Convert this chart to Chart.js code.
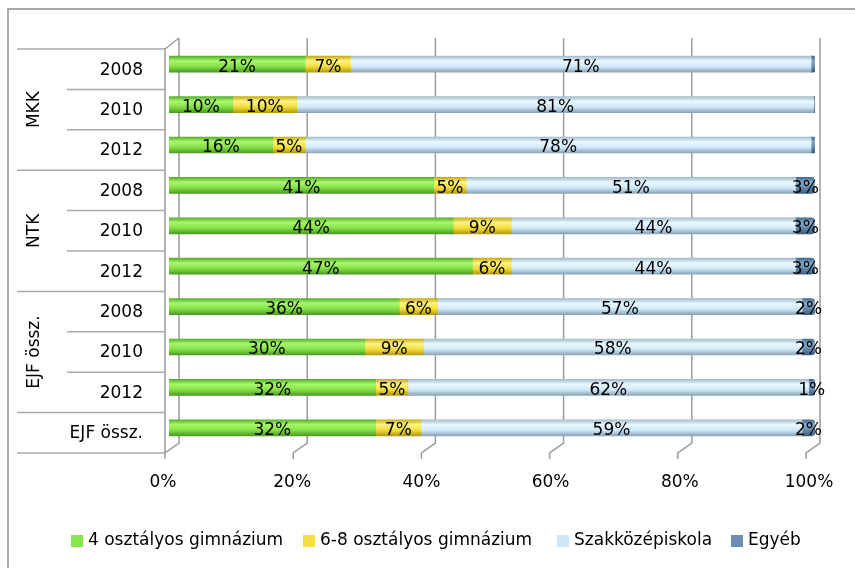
<!DOCTYPE html>
<html>
<head>
<meta charset="utf-8">
<script src="https://cdn.jsdelivr.net/npm/chart.js@4/dist/chart.umd.min.js"></script>
<style>
  html, body { margin: 0; padding: 0; background: #fff; }
  canvas { display: block; }
</style>
</head>
<body>
<canvas id="chart" width="855" height="568"></canvas>
<script>
// ---- data ----
const categories = ['2008', '2010', '2012', '2008', '2010', '2012', '2008', '2010', '2012', 'EJF össz.'];
const groupLabels = ['MKK', 'NTK', 'EJF össz.'];
const groupSizes = [3, 3, 3];
const seriesNames = ['4 osztályos gimnázium', '6-8 osztályos gimnázium', 'Szakközépiskola', 'Egyéb'];
const gimn4 = [21, 10, 16, 41, 44, 47, 36, 30, 32, 32];
const gimn68 = [7, 10, 5, 5, 9, 6, 6, 9, 5, 7];
const szakkozep = [71, 81, 78, 51, 44, 44, 57, 58, 62, 59];
const egyeb = [0.6, 0.2, 0.6, 3, 3, 3, 2, 2, 1, 2];
const xTicks = [0, 20, 40, 60, 80, 100];

const rawSeries = [gimn4, gimn68, szakkozep, egyeb];

// 100% stacked: normalise each row
const rowSums = categories.map((c, i) => rawSeries.reduce((s, arr) => s + arr[i], 0));
const normalised = rawSeries.map(arr => arr.map((v, i) => v / rowSums[i] * 100));

// ---- colours / layout ----
const FONT = '"DejaVu Sans", sans-serif';
const legendColors = ['#88e64a', '#f2e03e', '#cfe6f8', '#6a8fb1'];
const legendX = [71, 303, 557, 731];
const cylStops = [
  ['#5aae2c', '#a8f86c', '#84e046', '#4d9a25'],
  ['#c4ad16', '#fff385', '#f3dc3a', '#b39a0e'],
  ['#a4bccd', '#eaf8ff', '#cfe9f9', '#8aa3b6'],
  ['#456a8b', '#86a9ca', '#6489ab', '#3b5c7c']
];

function cylinder(stops) {
  return function(ctx) {
    const chart = ctx.chart;
    const ys = chart.scales && chart.scales.y;
    if (!ys || ctx.dataIndex === undefined) return stops[2];
    const yc = ys.getPixelForValue(ctx.dataIndex);
    if (!isFinite(yc)) return stops[2];
    const g = chart.ctx.createLinearGradient(0, yc - 8, 0, yc + 8);
    g.addColorStop(0, stops[0]);
    g.addColorStop(0.3, stops[1]);
    g.addColorStop(0.65, stops[2]);
    g.addColorStop(1, stops[3]);
    return g;
  };
}

// 3D walls, floor, left label grid, group labels
const frame3d = {
  id: 'frame3d',
  beforeDatasetsDraw(chart) {
    const ctx = chart.ctx;
    const xs = chart.scales.x;
    const ys = chart.scales.y;
    const step = ys.getPixelForValue(1) - ys.getPixelForValue(0);
    const rowTop = i => ys.getPixelForValue(i) - step / 2 + 5;
    const floorFront = rowTop(categories.length);
    const floorBack = floorFront - 10;
    const wallTop = rowTop(0) - 11;
    const front = v => xs.getPixelForValue(v) - 4 - 0.05 * v;
    const back = v => xs.getPixelForValue(v) + 10 - 0.05 * v;

    ctx.save();
    ctx.strokeStyle = '#9b9b9b';
    ctx.lineWidth = 1.5;
    // back wall gridlines + floor diagonals + ticks
    xTicks.forEach(v => {
      ctx.beginPath();
      ctx.moveTo(back(v), wallTop);
      ctx.lineTo(back(v), floorBack);
      ctx.lineTo(front(v), floorFront);
      ctx.lineTo(front(v), floorFront + 6);
      ctx.stroke();
    });
    // left side wall
    const lx = front(0);
    ctx.beginPath();
    ctx.moveTo(lx, floorFront);
    ctx.lineTo(lx, rowTop(0));
    ctx.lineTo(back(0), wallTop);
    ctx.stroke();

    // label separators
    ctx.strokeStyle = '#a8a8a8';
    const fullStops = [0];
    groupSizes.reduce((acc, n) => { fullStops.push(acc + n); return acc + n; }, 0);
    fullStops.push(categories.length);
    for (let k = 0; k <= categories.length; k++) {
      const y = rowTop(k);
      const x0 = fullStops.includes(k) ? 17 : 67;
      ctx.beginPath();
      ctx.moveTo(x0, y);
      ctx.lineTo(lx, y);
      ctx.stroke();
    }

    // group labels (rotated)
    ctx.fillStyle = '#000';
    ctx.font = '17px ' + FONT;
    ctx.textAlign = 'center';
    ctx.textBaseline = 'middle';
    let start = 0;
    groupLabels.forEach((g, gi) => {
      const yMid = (rowTop(start) + rowTop(start + groupSizes[gi])) / 2;
      ctx.save();
      ctx.translate(35, yMid);
      ctx.rotate(-Math.PI / 2);
      ctx.fillText(g, 0, 0);
      ctx.restore();
      start += groupSizes[gi];
    });
    ctx.restore();
  },
  afterDatasetsDraw(chart) {
    const ctx = chart.ctx;
    ctx.save();
    ctx.fillStyle = '#000';
    ctx.font = '17px ' + FONT;
    ctx.textAlign = 'center';
    ctx.textBaseline = 'middle';
    rawSeries.forEach((arr, di) => {
      const meta = chart.getDatasetMeta(di);
      meta.data.forEach((bar, j) => {
        const raw = arr[j];
        if (raw < 1) return;
        const p = bar.getProps(['x', 'y', 'base'], true);
        ctx.fillText(Math.round(raw) + '%', (p.x + p.base) / 2, p.y + 3);
      });
    });

    // legend
    const ly = 541;
    ctx.textAlign = 'left';
    seriesNames.forEach((name, i) => {
      ctx.fillStyle = legendColors[i];
      ctx.fillRect(legendX[i], ly - 6, 12, 12);
      ctx.fillStyle = '#000';
      ctx.fillText(name, legendX[i] + 17, ly);
    });

    // outer chart border
    ctx.strokeStyle = '#8c8c8c';
    ctx.lineWidth = 1.5;
    ctx.beginPath();
    ctx.moveTo(8, 568);
    ctx.lineTo(8, 9);
    ctx.lineTo(855, 9);
    ctx.stroke();
    ctx.restore();
  }
};

Chart.defaults.font.family = FONT;
Chart.defaults.font.size = 17;
Chart.defaults.color = '#000';

new Chart(document.getElementById('chart'), {
  type: 'bar',
  data: {
    labels: categories,
    datasets: seriesNames.map((name, i) => ({
      label: name,
      data: normalised[i],
      backgroundColor: cylinder(cylStops[i]),
      borderWidth: 0,
      borderRadius: i === 3 ? 4 : 0,
      borderSkipped: 'start',
      barThickness: 16
    }))
  },
  options: {
    indexAxis: 'y',
    responsive: false,
    animation: false,
    layout: { padding: { top: 44, right: 40, bottom: 70, left: 0 } },
    plugins: {
      legend: { display: false },
      tooltip: { enabled: false }
    },
    scales: {
      x: {
        stacked: true,
        min: 0,
        max: 100,
        border: { display: false },
        grid: { display: false, drawTicks: false },
        ticks: {
          stepSize: 20,
          padding: 24,
          labelOffset: -6,
          callback: v => v + '%'
        },
        afterFit: scale => {
          scale.height = 50;
          scale.paddingLeft = 0;
          scale.paddingRight = 0;
        }
      },
      y: {
        stacked: true,
        border: { display: false },
        grid: { display: false, drawTicks: false },
        ticks: { padding: 26, labelOffset: 6, autoSkip: false },
        afterFit: scale => { scale.width = 169; }
      }
    }
  },
  plugins: [frame3d]
});
</script>
</body>
</html>
